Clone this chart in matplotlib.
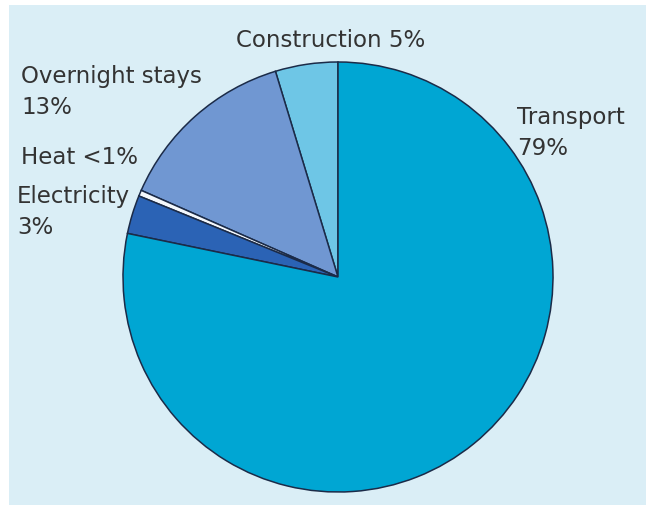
import matplotlib
matplotlib.use("Agg")
import matplotlib.pyplot as plt
from matplotlib.patches import Rectangle

labels = ["Construction", "Overnight stays", "Heat", "Electricity", "Transport"]
values = [4.7, 13.7, 0.45, 2.9, 78.25]
colors = ["#6ec6e6", "#7097d2", "#f4f8fc", "#2b63b5", "#00a6d3"]
label_texts = [
    ("Construction 5%", 236, 40),
    ("Overnight stays\n13%", 21, 92),
    ("Heat <1%", 21, 158),
    ("Electricity\n3%", 17, 212),
    ("Transport\n79%", 517, 133),
]

W, H = 656, 506
fig = plt.figure(figsize=(W / 100, H / 100), dpi=100)
fig.patch.set_facecolor("white")
ax = fig.add_axes([0, 0, 1, 1])
ax.set_xlim(0, W)
ax.set_ylim(0, H)
ax.axis("off")

ax.add_patch(Rectangle((9, 0), 637, H - 6, facecolor="#daeef6", edgecolor="none", zorder=0))

ax.pie(values, colors=colors, startangle=90, counterclock=True,
       center=(338, H - 278), radius=215, frame=True,
       wedgeprops=dict(edgecolor="#1b2b48", linewidth=1.1))
ax.set_xlim(0, W)
ax.set_ylim(0, H)
ax.set_aspect("auto")
ax.axis("off")

for txt, x, y in label_texts:
    ax.text(x, H - y, txt, ha="left", va="center", fontsize=16.5,
            color="#333333", family="DejaVu Sans", linespacing=1.4)

fig.savefig("out.png", dpi=100)
